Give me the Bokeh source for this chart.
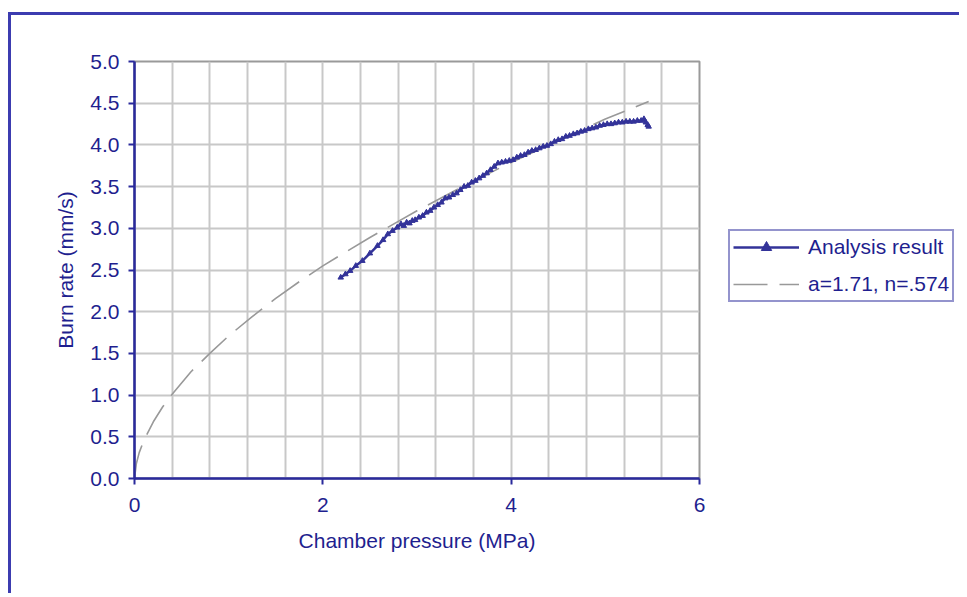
from bokeh.plotting import figure
from bokeh.layouts import row
from bokeh.models import Range1d, FixedTicker, Legend, LegendItem, PrintfTickFormatter
from bokeh.embed import file_html
from bokeh.resources import INLINE

# ---- data ----
pressure = [2.19, 2.24, 2.29, 2.35, 2.42, 2.50, 2.58, 2.64, 2.69, 2.74, 2.79, 2.83, 2.86, 2.89, 2.92, 2.95, 2.98,
            3.02, 3.06, 3.10, 3.14, 3.18, 3.22, 3.26, 3.30, 3.34, 3.38, 3.42, 3.46, 3.50, 3.54, 3.58, 3.62, 3.66,
            3.70, 3.74, 3.78, 3.82, 3.86, 3.90, 3.94, 3.98, 4.02, 4.06, 4.10, 4.14, 4.18, 4.22, 4.26, 4.30, 4.34,
            4.38, 4.42, 4.46, 4.50, 4.54, 4.58, 4.62, 4.66, 4.70, 4.74, 4.78, 4.82, 4.86, 4.90, 4.94, 4.98, 5.02,
            5.06, 5.10, 5.14, 5.18, 5.22, 5.26, 5.30, 5.34, 5.38, 5.41, 5.43, 5.45, 5.46]
burn_rate = [2.41, 2.45, 2.49, 2.55, 2.61, 2.70, 2.79, 2.86, 2.93, 2.97, 3.01, 3.05, 3.03, 3.07, 3.06, 3.09, 3.10,
             3.13, 3.15, 3.19, 3.21, 3.25, 3.28, 3.31, 3.36, 3.37, 3.40, 3.42, 3.46, 3.50, 3.51, 3.55, 3.57, 3.60,
             3.63, 3.66, 3.70, 3.74, 3.78, 3.79, 3.80, 3.81, 3.82, 3.85, 3.87, 3.88, 3.91, 3.93, 3.94, 3.96, 3.98,
             3.99, 4.01, 4.04, 4.06, 4.07, 4.10, 4.11, 4.13, 4.14, 4.16, 4.17, 4.19, 4.20, 4.21, 4.23, 4.24, 4.25,
             4.25, 4.26, 4.27, 4.27, 4.28, 4.28, 4.28, 4.29, 4.29, 4.31, 4.27, 4.24, 4.22]

fit_pressure = [0.0, 0.02, 0.05, 0.1, 0.2, 0.3, 0.4, 0.6, 0.8, 1.0, 1.25, 1.5, 1.75, 2.0, 2.5, 3.0, 3.5, 4.0,
                4.5, 5.0, 5.46]
fit_rate = [0.0, 0.18, 0.31, 0.46, 0.68, 0.86, 1.01, 1.28, 1.50, 1.71, 1.94, 2.16, 2.36, 2.55, 2.89, 3.21, 3.51,
            3.79, 4.05, 4.31, 4.52]

x_ticks = [0, 2, 4, 6]
x_grid = [0.0, 0.4, 0.8, 1.2, 1.6, 2.0, 2.4, 2.8, 3.2, 3.6, 4.0, 4.4, 4.8, 5.2, 5.6, 6.0]
y_ticks = [0.0, 0.5, 1.0, 1.5, 2.0, 2.5, 3.0, 3.5, 4.0, 4.5, 5.0]

series_names = ["Analysis result", "a=1.71, n=.574"]

NAVY = "#333399"
TEXT = "#1f1f8f"
AXIS = "#2a2a9c"
FIT = "#999999"
FONT = "Liberation Sans"
H = 578

# ---------------- main chart ----------------
p = figure(width=708, height=H, output_backend="svg", toolbar_location=None,
           x_range=Range1d(0, 6), y_range=Range1d(0, 5),
           min_border_left=123, min_border_right=20, min_border_top=46, min_border_bottom=115,
           background_fill_color="white", border_fill_color="white")

p.outline_line_color = "#9a9a9a"
p.outline_line_width = 2

p.xgrid.ticker = FixedTicker(ticks=x_grid)
p.ygrid.ticker = FixedTicker(ticks=y_ticks)
for g in (p.xgrid, p.ygrid):
    g.grid_line_color = "#c8c8c8"
    g.grid_line_width = 2

p.xaxis.ticker = FixedTicker(ticks=x_ticks)
p.yaxis.ticker = FixedTicker(ticks=y_ticks)
p.yaxis.formatter = PrintfTickFormatter(format="%.1f")
p.xaxis.axis_label = "Chamber pressure (MPa)"
p.yaxis.axis_label = "Burn rate (mm/s)"
for ax in (p.xaxis, p.yaxis):
    ax.axis_line_color = AXIS
    ax.axis_line_width = 2.5
    ax.major_tick_line_color = AXIS
    ax.major_tick_line_width = 2
    ax.major_tick_in = 0
    ax.major_tick_out = 6
    ax.minor_tick_line_color = None
    ax.major_label_text_color = TEXT
    ax.major_label_text_font = FONT
    ax.major_label_text_font_size = "21px"
    ax.axis_label_text_color = TEXT
    ax.axis_label_text_font = FONT
    ax.axis_label_text_font_size = "21px"
    ax.axis_label_text_font_style = "normal"
p.xaxis.major_label_standoff = 13
p.xaxis.axis_label_standoff = 14
p.yaxis.major_label_standoff = 9
p.yaxis.axis_label_standoff = 10

p.line(fit_pressure, fit_rate, line_color=FIT, line_width=1.6, line_dash="34 12")
p.line(pressure, burn_rate, line_color=NAVY, line_width=2.5)
p.scatter(pressure, burn_rate, marker="triangle", size=5.5, fill_color=NAVY, line_color=NAVY)

# ---------------- legend panel (frame aligned with the chart's frame) ----------------
q = figure(width=240, height=H, output_backend="svg", toolbar_location=None,
           x_axis_type=None, y_axis_type=None, x_range=Range1d(-2, -1), y_range=Range1d(-2, -1),
           min_border=0, background_fill_color="white", border_fill_color="white")
q.outline_line_color = None
q.grid.visible = False
# legend proxies: same series, outside this panel's visible ranges
l_res = q.line(pressure, burn_rate, line_color=NAVY, line_width=2.5)
m_res = q.scatter(pressure, burn_rate, marker="triangle", size=6, fill_color=NAVY, line_color=NAVY)
l_fit = q.line(fit_pressure, fit_rate, line_color=FIT, line_width=1.6, line_dash="34 12")

legend = Legend(items=[LegendItem(label=series_names[0], renderers=[l_res, m_res]),
                       LegendItem(label=series_names[1], renderers=[l_fit])],
                location=(9, 176))
legend.border_line_color = AXIS
legend.border_line_width = 2
legend.background_fill_color = "white"
legend.background_fill_alpha = 1
legend.label_text_color = TEXT
legend.label_text_font = FONT
legend.label_text_font_size = "21px"
legend.glyph_width = 66
legend.glyph_height = 26
legend.label_height = 26
legend.label_standoff = 9
legend.spacing = 11
legend.padding = 3
legend.margin = 0
q.add_layout(legend, "center")

layout = row(p, q, spacing=0,
             styles={"border-left": "3px solid #3c3cb0", "border-top": "3px solid #3c3cb0",
                     "margin-top": "12px", "margin-left": "8px"})

open("out.html", "w").write(file_html(layout, INLINE))
